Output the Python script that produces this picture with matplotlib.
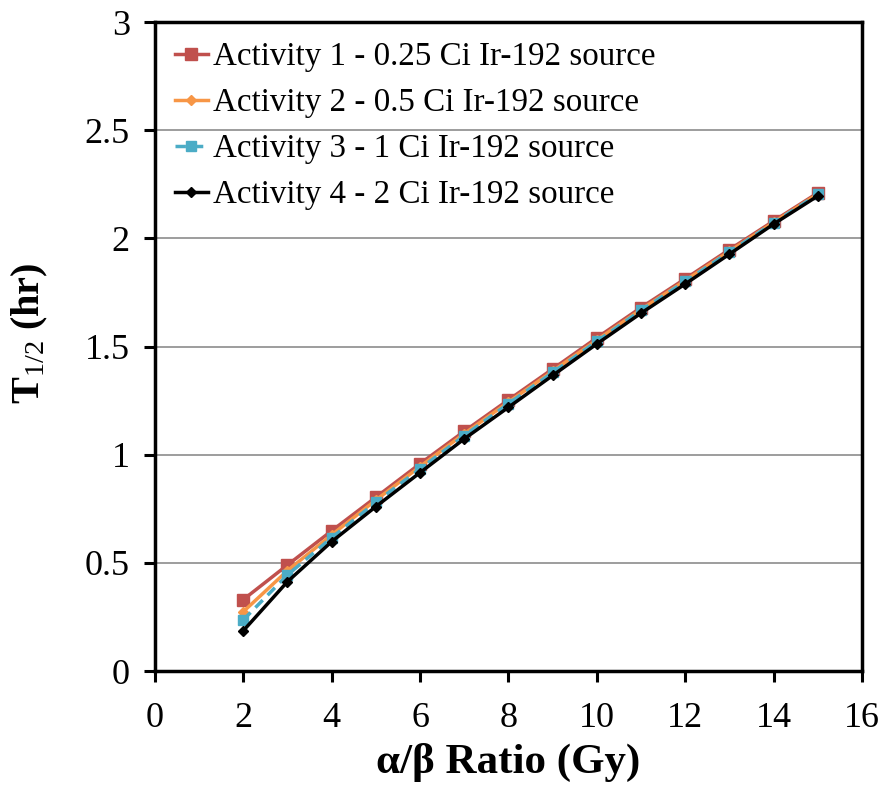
import matplotlib
matplotlib.use("Agg")
import matplotlib.pyplot as plt

plt.rcParams['font.family'] = ['Liberation Serif', 'DejaVu Serif']
plt.rcParams['mathtext.fontset'] = 'custom'
plt.rcParams['mathtext.rm'] = 'Liberation Serif'
plt.rcParams['mathtext.bf'] = 'Liberation Serif:bold'
plt.rcParams['mathtext.it'] = 'Liberation Serif:italic'

alpha_beta = [2, 3, 4, 5, 6, 7, 8, 9, 10, 11, 12, 13, 14, 15]
act1 = [0.330, 0.490, 0.648, 0.803, 0.958, 1.108, 1.253, 1.396, 1.540, 1.680, 1.813, 1.948, 2.080, 2.210]
act2 = [0.274, 0.464, 0.629, 0.790, 0.945, 1.097, 1.243, 1.386, 1.530, 1.671, 1.805, 1.940, 2.074, 2.205]
act3 = [0.236, 0.444, 0.616, 0.780, 0.935, 1.088, 1.236, 1.380, 1.524, 1.667, 1.801, 1.937, 2.072, 2.203]
act4 = [0.186, 0.413, 0.598, 0.760, 0.917, 1.073, 1.219, 1.366, 1.512, 1.654, 1.789, 1.927, 2.066, 2.196]
labels = ["Activity 1 - 0.25 Ci Ir-192 source",
          "Activity 2 - 0.5 Ci Ir-192 source",
          "Activity 3 - 1 Ci Ir-192 source",
          "Activity 4 - 2 Ci Ir-192 source"]
x_ticks = [0, 2, 4, 6, 8, 10, 12, 14, 16]
y_ticks = [0, 0.5, 1, 1.5, 2, 2.5, 3]
y_tick_labels = ["0", "0.5", "1", "1.5", "2", "2.5", "3"]

fig = plt.figure(figsize=(8.85, 7.86), dpi=100)
ax = fig.add_axes([0.175, 0.1463, 0.799, 0.8257])

ax.plot(alpha_beta, act1, color='#C0504D', lw=2.5, marker='s', ms=8, label=labels[0], zorder=3)
ax.plot(alpha_beta, act2, color='#F79646', lw=2.5, marker='D', ms=5.5, label=labels[1], zorder=4)
ax.plot(alpha_beta, act3, color='#4BACC6', lw=2.5, ls=(0, (3, 2)), marker='s', ms=7.5, label=labels[2], zorder=5)
ax.plot(alpha_beta, act4, color='#000000', lw=2.5, marker='D', ms=5, label=labels[3], zorder=6)

ax.set_xlim(0, 16)
ax.set_ylim(0, 3)
ax.set_xticks(x_ticks)
ax.set_yticks(y_ticks)
ax.set_yticklabels(y_tick_labels)
ax.yaxis.grid(True, color='#8c8c8c', lw=1.2)
ax.set_axisbelow(True)
for s in ax.spines.values():
    s.set_linewidth(2.5)
ax.tick_params(axis='both', direction='out', length=8, width=2.2, labelsize=26, pad=10)
ax.tick_params(axis='x', pad=14)

ax.set_xlabel(r"α/β Ratio (Gy)", fontsize=31, fontweight='bold', labelpad=6)
ax.set_ylabel(r"$\mathbf{T}_{\mathrm{1/2}}$ (hr)", fontsize=29, fontweight='bold')
ax.yaxis.set_label_coords(-0.148, 0.52)

leg = ax.legend(loc='upper left', frameon=False, fontsize=23.8, handlelength=1.0,
                handletextpad=0.15, labelspacing=0.47, borderaxespad=0.2,
                bbox_to_anchor=(0.0, 1.0))

fig.savefig("out.png", dpi=100)
